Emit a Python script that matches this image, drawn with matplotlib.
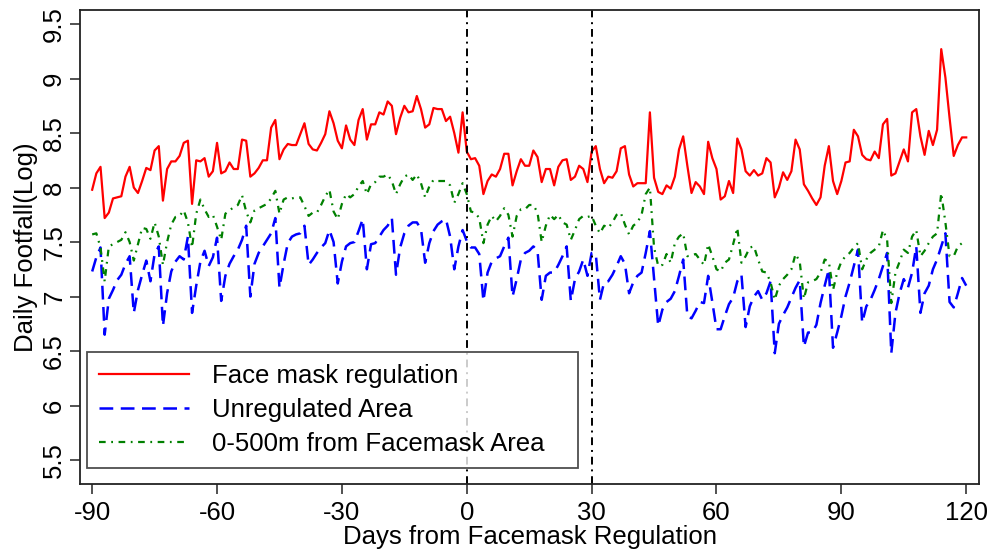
import matplotlib
matplotlib.use("Agg")
import matplotlib.pyplot as plt
import numpy as np

plt.rcParams['font.family'] = ['Liberation Sans', 'DejaVu Sans']

days = np.arange(-90, 121)

facemask = [
    7.98, 8.13, 8.19, 7.72, 7.77, 7.90, 7.91, 7.92, 8.10, 8.19, 8.00, 7.95, 8.06, 8.18, 8.16,
    8.34, 8.38, 7.88, 8.17, 8.24, 8.24, 8.29, 8.41, 8.43, 7.85, 8.25, 8.24, 8.27, 8.10, 8.15,
    8.41, 8.13, 8.15, 8.23, 8.17,
    8.17, 8.44, 8.43, 8.10, 8.13, 8.18, 8.25, 8.25, 8.55, 8.62, 8.26, 8.35, 8.40, 8.39, 8.39,
    8.49, 8.59, 8.40, 8.35, 8.34, 8.41, 8.49, 8.70, 8.59, 8.43, 8.36, 8.57, 8.44, 8.39, 8.62,
    8.72, 8.44, 8.58, 8.58, 8.69,
    8.67, 8.79, 8.75, 8.49, 8.64, 8.75, 8.69, 8.70, 8.84, 8.72, 8.55, 8.58, 8.73, 8.72, 8.72,
    8.61, 8.65, 8.50, 8.32, 8.69, 8.33, 8.26, 8.27, 8.20, 7.94, 8.06, 8.12, 8.10, 8.17, 8.31,
    8.31, 8.02, 8.15, 8.26, 8.20,
    8.20, 8.34, 8.28, 8.05, 8.17, 8.17, 8.02, 8.19, 8.25, 8.26, 8.07, 8.10, 8.20, 8.17, 8.05,
    8.33, 8.38, 8.17, 8.04, 8.10, 8.09, 8.15, 8.36, 8.38, 8.12, 8.01, 8.04, 8.04, 8.04, 8.69,
    8.09, 7.96, 7.94, 8.02, 7.99,
    8.10, 8.35, 8.47, 8.20, 7.95, 8.05, 8.01, 7.94, 8.42, 8.27, 8.17, 7.89, 7.92, 8.06, 7.95,
    8.45, 8.35, 8.15, 8.11, 8.16, 8.11, 8.13, 8.27, 8.23, 7.91, 8.00, 8.14, 8.07, 8.15, 8.44,
    8.35, 8.03, 7.97, 7.90,
    7.84, 7.91, 8.20, 8.38, 8.06, 7.94, 8.06, 8.23, 8.24, 8.53, 8.47, 8.30, 8.26, 8.25, 8.33,
    8.27, 8.58, 8.63, 8.11, 8.13, 8.24, 8.35, 8.24, 8.69, 8.72, 8.47, 8.30, 8.52, 8.39, 8.53,
    9.27, 9.01, 8.64, 8.29, 8.39, 8.46, 8.46,
]

unregulated = [
    7.23, 7.36, 7.45, 6.65, 6.98, 7.06, 7.15, 7.20, 7.30, 7.37, 6.85, 7.06, 7.20, 7.33, 7.14,
    7.39, 7.46, 6.73, 7.03, 7.23, 7.32, 7.37, 7.34, 7.55, 6.85, 7.10, 7.32, 7.42, 7.28, 7.36,
    7.54, 6.96, 7.19, 7.30, 7.37,
    7.43, 7.52, 7.65, 7.00, 7.30, 7.40, 7.46, 7.52, 7.58, 7.72, 7.08, 7.30, 7.49, 7.55, 7.57,
    7.58, 7.65, 7.29, 7.34, 7.40, 7.45, 7.49, 7.61, 7.50, 7.12, 7.32, 7.46, 7.49, 7.50, 7.60,
    7.71, 7.25, 7.48, 7.49, 7.55,
    7.61, 7.65, 7.72, 7.20, 7.45, 7.58, 7.65, 7.68, 7.68, 7.62, 7.31, 7.49, 7.60, 7.66, 7.69,
    7.71, 7.55, 7.25, 7.46, 7.61, 7.51, 7.45, 7.45, 7.39, 6.96, 7.22, 7.32, 7.35, 7.37, 7.46,
    7.54, 7.00, 7.16, 7.34, 7.40,
    7.42, 7.46, 7.42, 6.97, 7.19, 7.22, 7.22, 7.29, 7.37, 7.46, 6.96, 7.16, 7.23, 7.34, 7.19,
    7.40, 7.39, 6.97, 7.13, 7.14, 7.20, 7.28, 7.37, 7.30, 7.03, 7.13, 7.19, 7.22, 7.40, 7.60,
    7.16, 6.73, 6.88, 6.95, 6.98,
    7.05, 7.19, 7.34, 6.82, 6.80, 6.87, 6.95, 6.94, 7.19, 6.95, 6.70, 6.70, 6.82, 6.93, 6.99,
    7.14, 7.20, 6.72, 6.91, 7.00, 7.05, 6.97, 7.03, 7.14, 6.48, 6.75, 6.83, 6.90, 6.99, 7.08,
    7.15, 6.54, 6.67, 6.67,
    6.74, 6.94, 7.10, 7.25, 6.53, 6.67, 6.82, 7.00, 7.13, 7.28, 7.43, 6.76, 6.91, 6.97, 7.06,
    7.16, 7.28, 7.40, 6.48, 6.85, 7.03, 7.16, 7.08, 7.22, 7.46, 6.85, 7.03, 7.10, 7.25, 7.34,
    7.46, 7.58, 6.95, 6.90, 7.03, 7.17, 7.10,
]

nearby = [
    7.57, 7.58, 7.45, 7.14, 7.46, 7.48, 7.50, 7.52, 7.59, 7.50, 7.33, 7.48, 7.63, 7.62, 7.53,
    7.68, 7.55, 7.29, 7.50, 7.66, 7.73, 7.74, 7.79, 7.68, 7.45, 7.76, 7.89, 7.80, 7.73, 7.75,
    7.64, 7.52, 7.76, 7.79, 7.82,
    7.84, 7.93, 7.78, 7.68, 7.79, 7.81, 7.83, 7.85, 7.90, 7.97, 7.76, 7.89, 7.91, 7.90, 7.91,
    7.91, 7.83, 7.74, 7.77, 7.77, 7.84, 7.92, 7.98, 7.78, 7.71, 7.85, 7.94, 7.91, 7.94, 8.01,
    8.06, 7.94, 8.03, 8.05, 8.10,
    8.10, 8.12, 8.06, 7.94, 8.03, 8.10, 8.12, 8.07, 8.12, 8.04, 7.91, 8.01, 8.07, 8.06, 8.06,
    8.06, 8.02, 7.86, 7.94, 8.04, 7.94, 7.78, 7.77, 7.72, 7.49, 7.66, 7.74, 7.69, 7.74, 7.81,
    7.75, 7.55, 7.74, 7.80, 7.80,
    7.84, 7.84, 7.77, 7.50, 7.65, 7.75, 7.71, 7.75, 7.68, 7.66, 7.52, 7.61, 7.71, 7.74, 7.73,
    7.74, 7.65, 7.58, 7.65, 7.63, 7.68, 7.75, 7.77, 7.66, 7.57, 7.65, 7.68, 7.75, 7.94, 8.00,
    7.45, 7.28, 7.29, 7.39, 7.31,
    7.49, 7.55, 7.58, 7.37, 7.38, 7.39, 7.34, 7.29, 7.48, 7.37, 7.25, 7.23, 7.31, 7.34, 7.48,
    7.63, 7.31, 7.37, 7.45, 7.46, 7.34, 7.23, 7.22, 7.13, 6.97, 7.10, 7.16, 7.20, 7.25, 7.39,
    7.32, 6.98, 7.13, 7.14,
    7.16, 7.22, 7.34, 7.32, 7.06, 7.22, 7.32, 7.37, 7.40, 7.45, 7.49, 7.25, 7.34, 7.40, 7.43,
    7.46, 7.61, 7.52, 6.94, 7.22, 7.32, 7.43, 7.40, 7.55, 7.61, 7.37, 7.42, 7.49, 7.55, 7.58,
    7.95, 7.68, 7.37, 7.37, 7.46, 7.49, 7.49,
]

labels = ['Face mask regulation', 'Unregulated Area', '0-500m from Facemask Area']
event_days = [0, 30]
xticks = [-90, -60, -30, 0, 30, 60, 90, 120]
yticks = [5.5, 6, 6.5, 7, 7.5, 8, 8.5, 9, 9.5]

fig = plt.figure(figsize=(9.89, 5.5), dpi=100)
ax = fig.add_axes([0.081, 0.12, 0.909, 0.862])

ax.plot(days, facemask, color='#ff0000', linewidth=1.6, label=labels[0])
ax.plot(days, unregulated, color='#0000ff', linewidth=1.8,
        linestyle=(0, (5.5, 3)), label=labels[1])
ax.plot(days, nearby, color='#008000', linewidth=1.6,
        linestyle=(0, (3, 2.5, 0.8, 2.5)), label=labels[2])

for d in event_days:
    ax.axvline(d, color='black', linewidth=1.4, linestyle=(0, (4, 2.5, 1, 2.5)))

ax.set_xlim(-92.9, 123.1)
ax.set_ylim(5.28, 9.63)
ax.set_xticks(xticks)
ax.set_xticklabels([str(t) for t in xticks])
ax.set_yticks(yticks)
ax.set_yticklabels(['5.5', '6', '6.5', '7', '7.5', '8', '8.5', '9', '9.5'],
                   rotation=90, va='center')
ax.tick_params(axis='both', direction='out', length=7, width=1.2,
               labelsize=18.5, color='#333333')
ax.tick_params(axis='x', pad=5)
ax.tick_params(axis='y', pad=3)

for s in ax.spines.values():
    s.set_linewidth(1.3)
    s.set_color('#222222')

ax.set_xlabel('Days from Facemask Regulation', fontsize=18.5, labelpad=0)
ax.set_ylabel('Daily Footfall(Log)', fontsize=18.5, labelpad=3)

leg = ax.legend(loc='lower left', bbox_to_anchor=(0.008, 0.034, 0.546, 0.255),
                mode='expand', borderaxespad=0, fontsize=18.5, frameon=True,
                fancybox=False, edgecolor='#222222', handlelength=3.5,
                handletextpad=0.9, labelspacing=0.4, borderpad=0.45)
leg.get_frame().set_linewidth(1.3)

plt.savefig('out.png', dpi=100)
